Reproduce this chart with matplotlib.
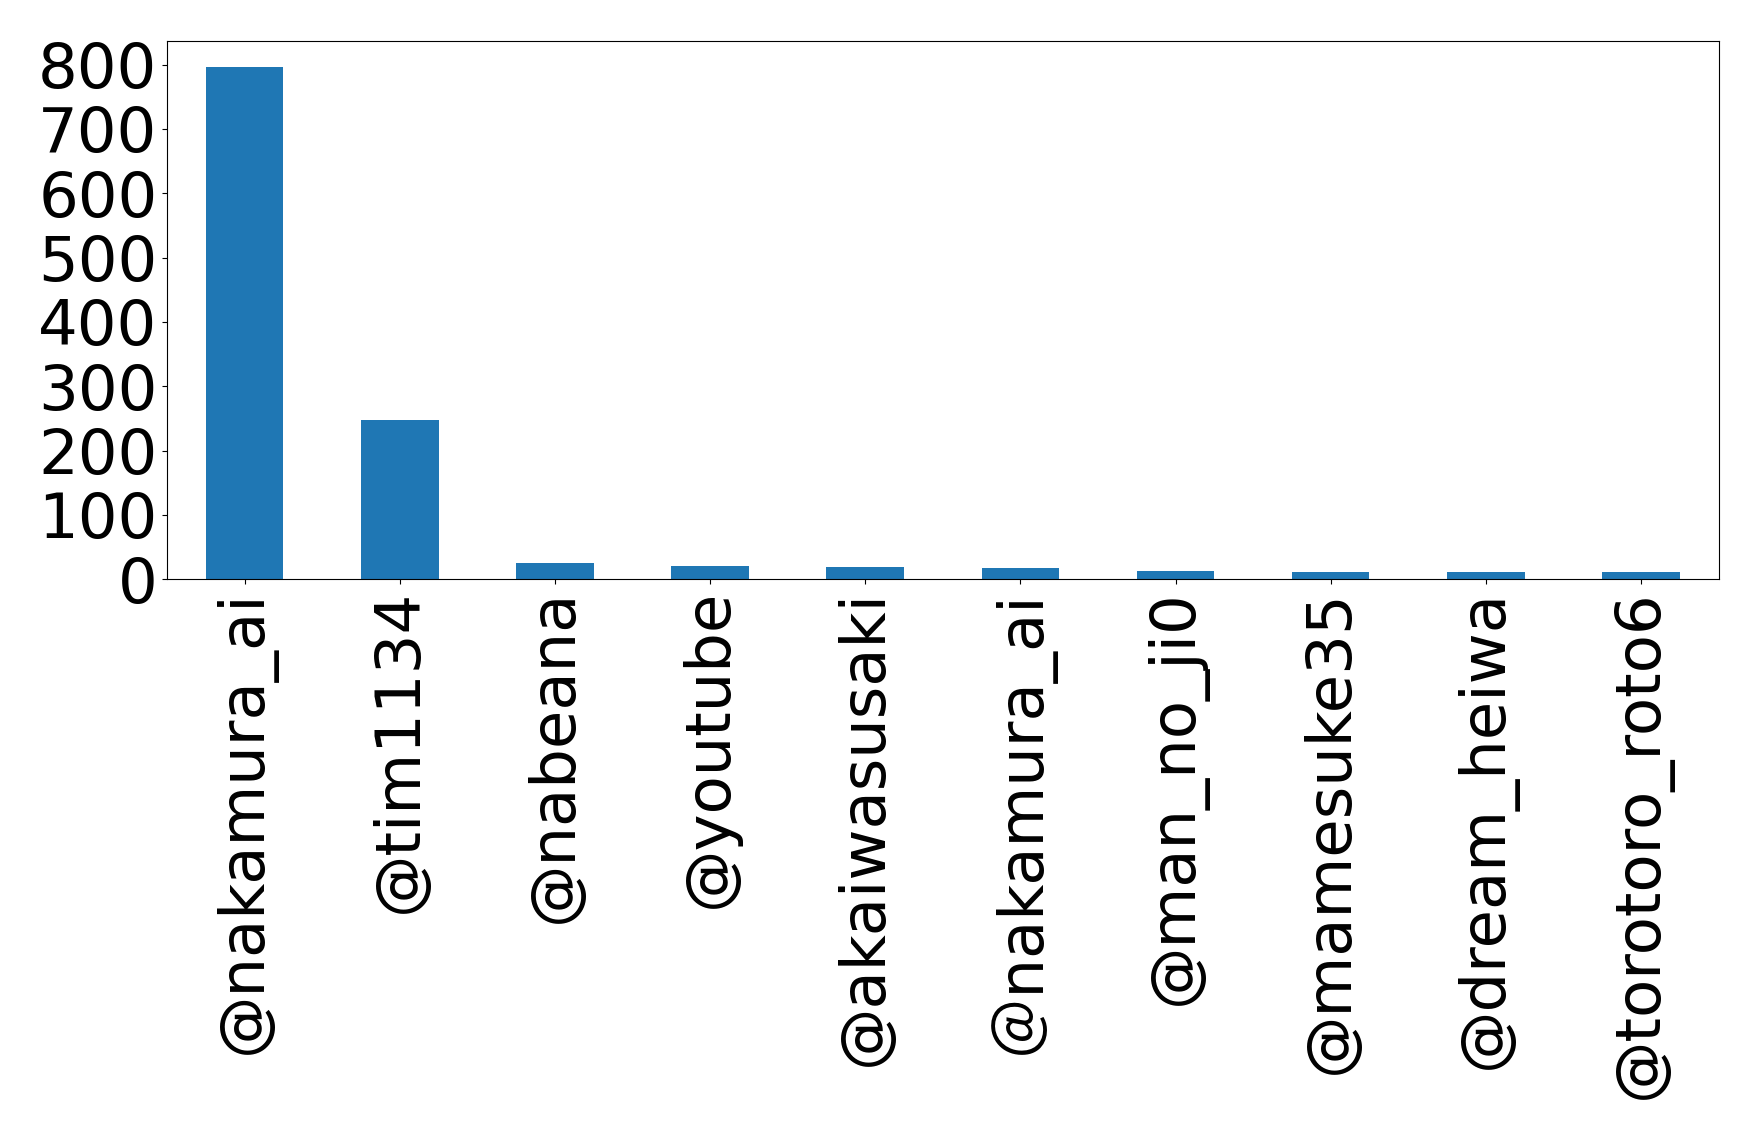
import matplotlib
matplotlib.use('Agg')
import matplotlib.pyplot as plt
import pandas as pd

# fallback family for the full-width "＠" in one label
plt.rcParams['font.family'] = ['DejaVu Sans', 'Noto Sans CJK JP']

# mention counts
accounts = ['@nakamura_ai', '@tim1134', '@nabeana', '@youtube', '@akaiwasusaki',
            '\uff20nakamura_ai', '@man_no_ji0', '@mamesuke35', '@dream_heiwa', '@torotoro_roto6']
counts = [797, 248, 25, 20, 19, 17, 13, 11, 11, 11]

s = pd.Series(counts, index=accounts)

fig, ax = plt.subplots(figsize=(17.59, 11.38), dpi=100)
s.plot.bar(ax=ax, fontsize=45, color='#1f77b4')

fig.subplots_adjust(left=0.095, right=0.977, top=0.964, bottom=0.491)
plt.savefig('out.png', dpi=100)
